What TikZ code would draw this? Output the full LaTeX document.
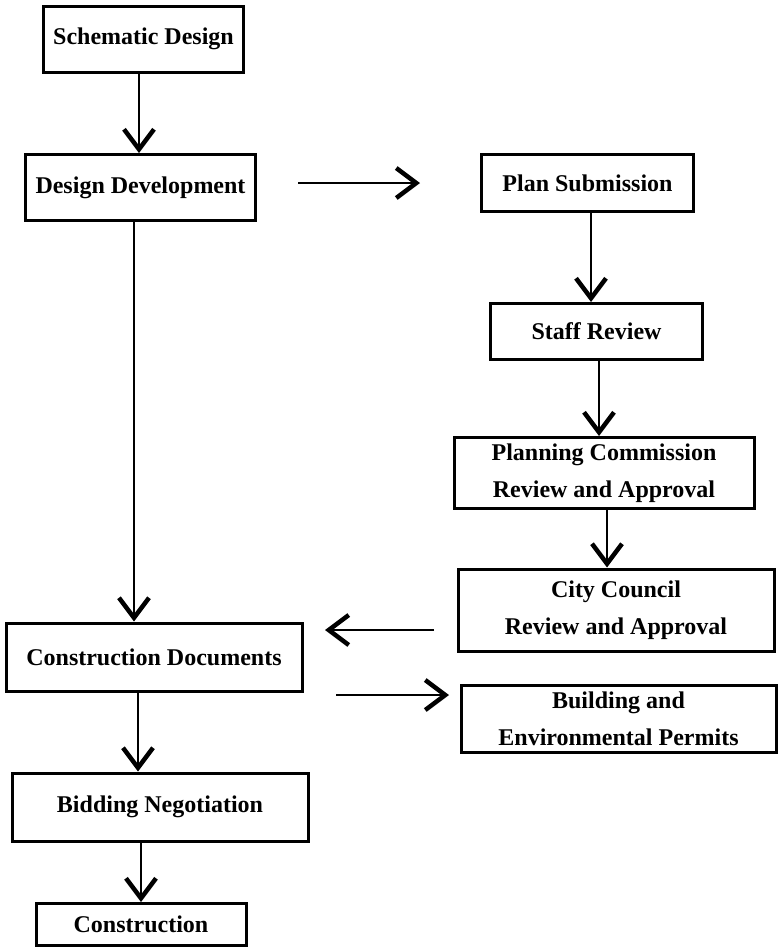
\documentclass[tikz,border=0pt]{standalone}
\usepackage{fontspec}
\setmainfont{Liberation Serif}
\usetikzlibrary{arrows.meta}

\begin{document}
\begin{tikzpicture}[x=1pt,y=-1pt,
    box/.style={draw,line width=3pt,align=center,inner sep=0pt,
      font=\fontsize{24}{37}\selectfont\bfseries},
    arr/.style={-{Straight Barb[length=20pt,width=30pt,line width=4.5pt]}}]
    \useasboundingbox (0,0) rectangle (779,948);
    % left column
    \node[box,minimum width=200,minimum height=66] (sd) at (143.5,39) {Schematic Design};
    \node[box,minimum width=230,minimum height=66] (dd) at (140.5,187.5) {Design Development};
    \node[box,minimum width=296,minimum height=68] (cd) at (154,657) {Construction Documents};
    \node[box,minimum width=296,minimum height=68] (bid) at (160,807) {Bidding Negotiation};
    \node[box,minimum width=210,minimum height=42] (con) at (141,924.5) {Construction};
    % right column
    \node[box,minimum width=212,minimum height=57] (plan) at (587.5,183) {Plan Submission};
    \node[box,minimum width=212,minimum height=56] (staff) at (596.5,331.5) {Staff Review};
    \node[box,minimum width=300,minimum height=71] (pc) at (604,473) {Planning Commission\\Review and Approval};
    \node[box,minimum width=316,minimum height=82] (cc) at (616,610) {City Council\\Review and Approval};
    \node[box,minimum width=315,minimum height=67] (bep) at (618.5,718.5) {Building and\\Environmental Permits};
    % free ends of the side arrows
    \coordinate (ddout) at (298,183);
    \coordinate (planin) at (420,183);
    \coordinate (ccout) at (434,630);
    \coordinate (cdin) at (325,630);
    \coordinate (cdout) at (336,695);
    \coordinate (bepin) at (449,695);
    \draw[arr,line width=2.5pt] ([xshift=-4.5]sd.south) -- ([xshift=-4.5]sd.south |- dd.north);
    \draw[arr,line width=2pt] ([xshift=-6.5]dd.south) -- ([xshift=-6.5]dd.south |- cd.north);
    \draw[arr,line width=1.5pt] ([xshift=-16]cd.south) -- ([xshift=-16]cd.south |- bid.north);
    \draw[arr,line width=2pt] (bid.south -| con.north) -- (con.north);
    \draw[arr,line width=1.5pt] ([xshift=3.5]plan.south) -- ([xshift=3.5]plan.south |- staff.north);
    \draw[arr,line width=2.5pt] ([xshift=2.5]staff.south) -- ([xshift=2.5]staff.south |- pc.north);
    \draw[arr,line width=2pt] ([xshift=3]pc.south) -- ([xshift=3]pc.south |- cc.north);
    \draw[arr,line width=1.5pt] (ddout) -- (planin);
    \draw[arr,line width=1.5pt] (ccout) -- (cdin);
    \draw[arr,line width=2pt] (cdout) -- (bepin);
\end{tikzpicture}
\end{document}
